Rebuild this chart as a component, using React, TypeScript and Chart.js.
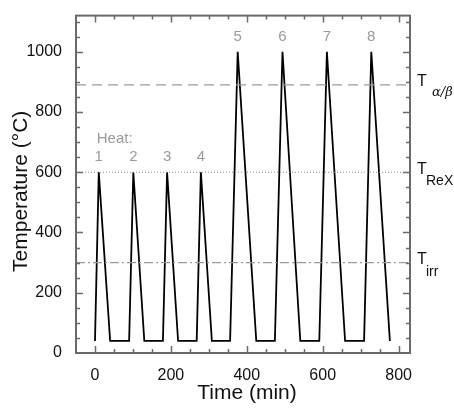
import { useEffect, useRef } from "react";
import { Chart, registerables } from "chart.js";

Chart.register(...registerables);

// ---- data ----
const timeMin = [0, 10, 40, 90, 101, 130, 179, 190, 219, 268, 279, 308, 356, 376, 425, 474, 494, 541, 591, 611, 659, 709, 728, 777];
const temperatureC = [40, 600, 40, 40, 600, 40, 40, 600, 40, 40, 600, 40, 40, 1000, 40, 40, 1000, 40, 40, 1000, 40, 40, 1000, 40];
const heatNumbers = ["1", "2", "3", "4", "5", "6", "7", "8"];
const heatTitle = "Heat:";
const thresholdValues = [890, 600, 300];
const thresholdSubscripts = ["α/β", "ReX", "irr"];
const xTicks = [0, 200, 400, 600, 800];
const yTicks = [0, 200, 400, 600, 800, 1000];
const xRange = [-50, 830];
const yRange = [0, 1120];
const minorStep = 50;
const xTitle = "Time (min)";
const yTitle = "Temperature (°C)";

const FONT = "'Liberation Sans', Arial, sans-serif";
const GRAY = "#9a9a9a";
const AXIS = "#6a6a6a";

const thresholdDash = [[10, 6], [1, 2], [9, 3, 2, 3]];

const decorPlugin = {
  id: "decor",
  afterDraw(chart: any) {
    const { ctx, chartArea } = chart;
    const xs = chart.scales.x;
    const ys = chart.scales.y;
    const { left, right, top, bottom } = chartArea;
    ctx.save();

    // frame
    ctx.strokeStyle = AXIS;
    ctx.lineWidth = 2;
    ctx.strokeRect(left, top, right - left, bottom - top);

    // ticks (inward)
    ctx.lineWidth = 1.5;
    ctx.beginPath();
    for (let v = Math.ceil(xRange[0] / minorStep) * minorStep; v <= xRange[1]; v += minorStep) {
      if (v <= xRange[0]) continue;
      const px = Math.round(xs.getPixelForValue(v)) + 0.5;
      const len = xTicks.includes(v) ? 7 : 4;
      ctx.moveTo(px, bottom);
      ctx.lineTo(px, bottom - len);
      ctx.moveTo(px, top);
      ctx.lineTo(px, top + len);
    }
    for (let v = yRange[0] + minorStep; v < yRange[1]; v += minorStep) {
      const py = Math.round(ys.getPixelForValue(v)) + 0.5;
      const len = yTicks.includes(v) ? 7 : 4;
      ctx.moveTo(left, py);
      ctx.lineTo(left + len, py);
      ctx.moveTo(right, py);
      ctx.lineTo(right - len, py);
    }
    ctx.stroke();

    // heat labels
    ctx.fillStyle = GRAY;
    ctx.font = `15px ${FONT}`;
    ctx.textBaseline = "middle";
    let k = 0;
    let firstPeak = 0;
    for (let i = 1; i < temperatureC.length - 1; i++) {
      if (temperatureC[i] > temperatureC[i - 1] && temperatureC[i] > temperatureC[i + 1]) {
        if (k === 0) firstPeak = timeMin[i];
        ctx.textAlign = "center";
        ctx.fillText(
          heatNumbers[k],
          xs.getPixelForValue(timeMin[i]),
          ys.getPixelForValue(temperatureC[i]) - 15
        );
        k++;
      }
    }
    ctx.textAlign = "left";
    ctx.fillText(heatTitle, xs.getPixelForValue(firstPeak) - 2, ys.getPixelForValue(600) - 33);

    // threshold labels
    ctx.fillStyle = "#111";
    thresholdValues.forEach((v, i) => {
      const py = ys.getPixelForValue(v);
      ctx.font = `16px ${FONT}`;
      ctx.textAlign = "left";
      ctx.textBaseline = "middle";
      ctx.fillText("T", right + 7, py - 3);
      if (i === 0) {
        ctx.font = `italic 13px 'DejaVu Serif', serif`;
        ctx.textBaseline = "alphabetic";
        ctx.fillText(thresholdSubscripts[i], right + 22, py + 11);
      } else {
        ctx.font = `14px ${FONT}`;
        ctx.textBaseline = "alphabetic";
        ctx.fillText(thresholdSubscripts[i], right + 16, py + 13);
      }
    });

    // axis titles
    ctx.fillStyle = "#111";
    ctx.font = `21px ${FONT}`;
    ctx.textAlign = "center";
    ctx.textBaseline = "alphabetic";
    ctx.fillText(xTitle, (left + right) / 2 + 4, 399);
    ctx.save();
    ctx.translate(27, (top + bottom) / 2 + 7);
    ctx.rotate(-Math.PI / 2);
    ctx.fillText(yTitle, 0, 0);
    ctx.restore();

    ctx.restore();
  },
};

export default function App() {
  const ref = useRef<HTMLCanvasElement | null>(null);

  useEffect(() => {
    if (!ref.current) return;
    const thresholdSets = thresholdValues.map((v, i) => ({
      data: [
        { x: xRange[0], y: v },
        { x: xRange[1], y: v },
      ],
      borderColor: i === 1 ? "#8a8a8a" : GRAY,
      borderWidth: i === 1 ? 1 : 1.3,
      borderDash: thresholdDash[i],
      pointRadius: 0,
      showLine: true,
      fill: false,
    }));
    const chart = new Chart(ref.current, {
      type: "scatter",
      data: {
        datasets: [
          ...thresholdSets,
          {
            data: timeMin.map((t, i) => ({ x: t, y: temperatureC[i] })),
            borderColor: "#000",
            borderWidth: 1.8,
            pointRadius: 0,
            showLine: true,
            fill: false,
            tension: 0,
          },
        ],
      },
      options: {
        responsive: false,
        animation: false,
        events: [],
        layout: { padding: { left: 0, right: 44, top: 10, bottom: 0 } },
        plugins: {
          legend: { display: false },
          tooltip: { enabled: false },
          title: { display: false },
        },
        scales: {
          x: {
            type: "linear",
            min: xRange[0],
            max: xRange[1],
            grid: { display: false },
            border: { display: false },
            afterBuildTicks: (s: any) => {
              s.ticks = xTicks.map((v) => ({ value: v }));
            },
            afterFit: (s: any) => {
              s.height = 57;
            },
            ticks: {
              padding: 5,
              maxRotation: 0,
              color: "#111",
              font: { family: FONT, size: 16 },
              callback: (v: any) => String(v),
            },
          },
          y: {
            type: "linear",
            min: yRange[0],
            max: yRange[1],
            grid: { display: false },
            border: { display: false },
            afterBuildTicks: (s: any) => {
              s.ticks = yTicks.map((v) => ({ value: v }));
            },
            afterFit: (s: any) => {
              s.width = 76;
            },
            ticks: {
              padding: 6,
              color: "#111",
              font: { family: FONT, size: 16 },
              callback: (v: any) => String(v),
            },
          },
        },
      },
      plugins: [decorPlugin],
    });
    return () => chart.destroy();
  }, []);

  return (
    <div style={{ position: "fixed", left: 0, top: 0, width: 454, height: 410, background: "#fff" }}>
      <canvas ref={ref} width={454} height={410} style={{ display: "block" }} />
    </div>
  );
}
